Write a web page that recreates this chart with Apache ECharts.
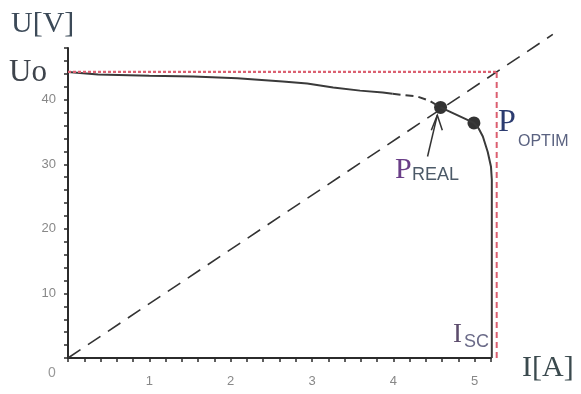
<!DOCTYPE html>
<html>
<head>
<meta charset="utf-8">
<script src="https://cdn.jsdelivr.net/npm/echarts@6/dist/echarts.min.js"></script>
<style>
html, body { margin: 0; padding: 0; background: #fff; }
#chart { width: 581px; height: 394px; }
</style>
</head>
<body>
<div id="chart"></div>
<script>
// I-U curve
var curveI = [0, 0.37, 1.0, 1.54, 2.08, 2.64, 2.94, 3.26, 3.59, 3.87, 3.99, 4.29, 4.45, 4.58, 4.99, 5.05, 5.10, 5.16, 5.20, 5.21, 5.21];
var curveU = [44.3, 43.9, 43.7, 43.6, 43.3, 42.8, 42.5, 41.9, 41.4, 41.1, 40.9, 40.5, 39.8, 38.8, 36.4, 35.5, 34.3, 31.9, 29.6, 27.6, 0];
var dashFrom = 10, dashTo = 13; // dashed stretch of the curve (indexes)

// load line through origin
var diagI = [0, 5.96];
var diagU = [0, 50.1];

var uo = 44.3;      // open circuit voltage
var iscLine = 5.27; // red dashed vertical
var pReal = [4.58, 38.8];
var pOptim = [4.99, 36.4];
var arrowTail = [4.42, 31.2];
var arrowTip = [4.54, 37.6];

var xLabels = [1, 2, 3, 4, 5];
var yLabels = [10, 20, 30, 40];

function pairs(xs, ys, a, b) {
    var out = [];
    for (var i = a; i <= b; i++) out.push([xs[i], ys[i]]);
    return out;
}
function labelFmt(list) {
    return function (v) {
        for (var i = 0; i < list.length; i++) {
            if (Math.abs(v - list[i]) < 1e-6) return String(list[i]);
        }
        return '';
    };
}

var myChart = echarts.init(document.getElementById('chart'));
var axisColor = '#2b2b2b';
var curveColor = '#3a3a3a';
var redColor = '#db5f70';

// grid 0 draws the visible axes (I up to 5.2, U up to 48)
// grid 1 has the same scale but a larger range, so marks past the axis ends still show
var left = 68, bottom = 36, right0 = 90, top0 = 48;
var xMax0 = 5.2, yMax0 = 48, xMax1 = 6, yMax1 = 51;
var pxPerI = (581 - left - right0) / xMax0;
var pxPerU = (394 - top0 - bottom) / yMax0;
var right1 = 581 - left - pxPerI * xMax1;
var top1 = 394 - bottom - pxPerU * yMax1;

var hiddenAxis = { show: false };

function onGrid1(s) {
    s.xAxisIndex = 1;
    s.yAxisIndex = 1;
    return s;
}

myChart.setOption({
    animation: false,
    grid: [
        { left: left, right: right0, top: top0, bottom: bottom },
        { left: left, right: right1, top: top1, bottom: bottom }
    ],
    xAxis: [{
        type: 'value', min: 0, max: xMax0, interval: 0.2,
        axisLine: { lineStyle: { color: axisColor, width: 2 } },
        axisTick: { length: 4, lineStyle: { color: axisColor, width: 1.5 } },
        splitLine: { show: false },
        axisLabel: { formatter: labelFmt(xLabels), color: '#888', fontSize: 13, margin: 17, fontFamily: 'Liberation Sans' }
    }, {
        type: 'value', gridIndex: 1, min: 0, max: xMax1,
        axisLine: hiddenAxis, axisTick: hiddenAxis, axisLabel: hiddenAxis, splitLine: hiddenAxis
    }],
    yAxis: [{
        type: 'value', min: 0, max: yMax0, interval: 2,
        axisLine: { show: true, lineStyle: { color: axisColor, width: 2 } },
        axisTick: { show: true, length: 4, lineStyle: { color: axisColor, width: 1.5 } },
        splitLine: { show: false },
        axisLabel: { formatter: labelFmt(yLabels), color: '#888', fontSize: 13, margin: 12, fontFamily: 'Liberation Sans' }
    }, {
        type: 'value', gridIndex: 1, min: 0, max: yMax1,
        axisLine: hiddenAxis, axisTick: hiddenAxis, axisLabel: hiddenAxis, splitLine: hiddenAxis
    }],
    series: [
        onGrid1({ // load line
            type: 'line', data: pairs(diagI, diagU, 0, 1), symbol: 'none',
            lineStyle: { color: '#333', width: 1.6, type: [15, 9] }
        }),
        onGrid1({ // curve, solid part
            type: 'line', data: pairs(curveI, curveU, 0, dashFrom), symbol: 'none',
            lineStyle: { color: curveColor, width: 2 }
        }),
        onGrid1({ // curve, dashed part
            type: 'line', data: pairs(curveI, curveU, dashFrom, dashTo), symbol: 'none',
            lineStyle: { color: curveColor, width: 2, type: [8, 5] }
        }),
        onGrid1({ // curve, after P real
            type: 'line', data: pairs(curveI, curveU, dashTo, curveI.length - 1), symbol: 'none',
            lineStyle: { color: curveColor, width: 2 }
        }),
        onGrid1({ // Uo
            type: 'line', data: [[0, uo], [iscLine, uo]], symbol: 'none',
            lineStyle: { color: redColor, width: 2.2, type: [3, 2] }
        }),
        onGrid1({ // Isc
            type: 'line', data: [[iscLine, uo], [iscLine, 0]], symbol: 'none',
            lineStyle: { color: redColor, width: 2, type: [6, 4] }
        }),
        onGrid1({
            type: 'scatter', data: [pReal, pOptim], symbolSize: 13,
            itemStyle: { color: '#000' }
        })
    ]
});

var tip = myChart.convertToPixel({ gridIndex: 1 }, arrowTip);
var tail = myChart.convertToPixel({ gridIndex: 1 }, arrowTail);
var serif = 'Liberation Serif';
var sans = 'Liberation Sans';

myChart.setOption({
    graphic: [
        { type: 'text', left: 11, top: 9, style: { text: 'U[V]', font: '30px ' + serif, fill: '#3c4a58' } },
        { type: 'text', left: 9, top: 57, style: { text: 'Uo', font: '31px ' + serif, fill: '#3e444c' } },
        { type: 'text', left: 48, top: 366, style: { text: '0', font: '14px ' + sans, fill: '#999' } },
        { type: 'text', left: 522, top: 353, style: { text: 'I[A]', font: '30px ' + serif, fill: '#3b4a4e' } },
        { type: 'text', left: 453, top: 321, style: { text: 'I', font: '27px ' + serif, fill: '#5c4c6c' } },
        { type: 'text', left: 464, top: 333, style: { text: 'SC', font: '18px ' + sans, fill: '#6a6a88' } },
        { type: 'text', left: 498, top: 107, style: { text: 'P', font: '32px ' + serif, fill: '#2c3c70' } },
        { type: 'text', left: 518, top: 134, style: { text: 'OPTIM', font: '16px ' + sans, fill: '#5a6280' } },
        { type: 'text', left: 395, top: 155, style: { text: 'P', font: '30px ' + serif, fill: '#6a3e88' } },
        { type: 'text', left: 412, top: 166, style: { text: 'REAL', font: '18px ' + sans, fill: '#4c5a68' } },
        {
            type: 'polyline',
            shape: { points: [[tail[0], tail[1]], [tip[0], tip[1]]] },
            style: { stroke: '#333', lineWidth: 1.5 }
        },
        {
            type: 'polyline',
            shape: { points: [[tip[0] - 6, tip[1] + 15], [tip[0], tip[1]], [tip[0] + 5, tip[1] + 15]] },
            style: { stroke: '#333', lineWidth: 1.5, fill: null }
        }
    ]
});
</script>
</body>
</html>
